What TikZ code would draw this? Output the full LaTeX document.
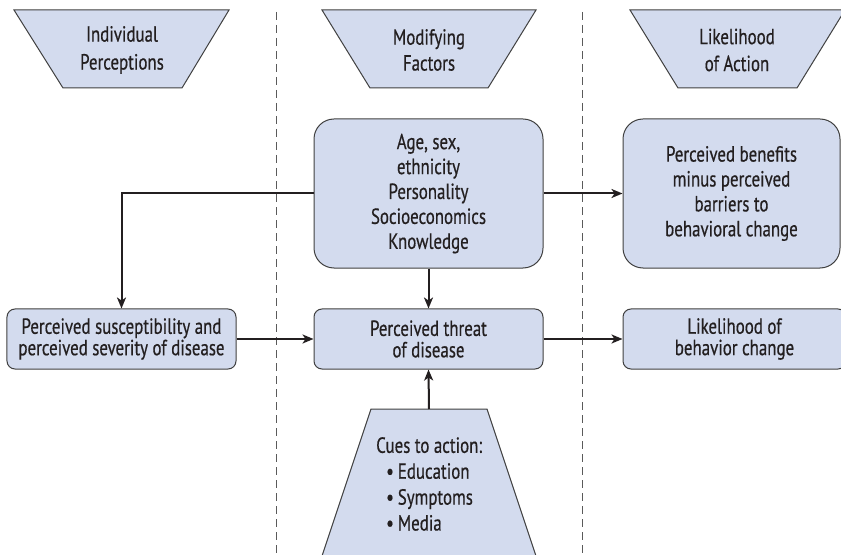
\documentclass[tikz,border=0pt]{standalone}
\usepackage{fontspec}
\setmainfont[FakeStretch=0.77, FakeBold=0.5]{PT Sans}
\usetikzlibrary{arrows.meta}

\definecolor{boxfill}{RGB}{211,219,238}
\definecolor{edge}{RGB}{64,64,64}
\definecolor{ink}{RGB}{35,31,32}
\definecolor{divider}{RGB}{90,90,90}

\begin{document}
\begin{tikzpicture}[x=1bp, y=-1bp,
  every node/.style={text=ink, font=\fontsize{22}{25}\selectfont, align=center, inner sep=0pt},
  tallbox/.style={draw=edge, fill=boxfill, line width=1bp, rounded corners=20bp,
    minimum width=229bp, minimum height=149bp},
  flatbox/.style={draw=edge, fill=boxfill, line width=1bp, rounded corners=8bp,
    minimum width=229bp, minimum height=60bp, font=\fontsize{22}{21.5}\selectfont},
  banner/.style={draw=edge, fill=boxfill, line width=1bp},
  link/.style={draw=ink, line width=2bp, -{Stealth[length=11bp, width=9bp, inset=3bp]}},
  divide/.style={draw=divider, line width=1bp, dash pattern=on 8bp off 5bp}
]
\useasboundingbox (0,0) rectangle (841,555);
\clip (0,0) rectangle (841,555);

% column dividers
\draw[divide] (276,12) -- (276,555);
\draw[divide] (582,12) -- (582,555);

% column headings
\draw[banner] (14,10) -- (229,10) -- (182,88) -- (63,88) -- cycle;
\node[font=\fontsize{22}{28}\selectfont] (indiv) at (122,50) {Individual\\Perceptions};
\draw[banner] (322,10) -- (536,10) -- (488,88) -- (370,88) -- cycle;
\node[font=\fontsize{22}{26}\selectfont] (modif) at (429,50) {Modifying\\Factors};
\draw[banner] (630,10) -- (845,10) -- (797,88) -- (678,88) -- cycle;
\node[font=\fontsize{22}{27}\selectfont] (action) at (737,50) {Likelihood\\of Action};

% model boxes
\node[tallbox] (factors) at (428.5,193.5) {Age, sex,\\ethnicity\\Personality\\Socioeconomics\\Knowledge};
\node[tallbox, minimum width=217bp] (benefits) at (731.5,193.5) {Perceived benefits\\minus perceived\\barriers to\\behavioral change};
\node[flatbox] (suscept) at (121.5,339) {Perceived susceptibility and\\perceived severity of disease};
\node[flatbox] (threat) at (428.5,339) {Perceived threat\\of disease};
\node[flatbox, minimum width=223bp] (likely) at (734.5,339) {Likelihood of\\behavior change};

% cues to action
\draw[banner] (371,409) -- (487,409) -- (538,562) -- (320,562) -- cycle;
\coordinate (cuestop) at (429,409);
\node[anchor=west, align=left, font=\fontsize{22}{26}\selectfont] (cues) at (376,484)
  {Cues to action:\\
   \hspace*{10bp}\textbullet\hspace{4bp}Education\\
   \hspace*{10bp}\textbullet\hspace{4bp}Symptoms\\
   \hspace*{10bp}\textbullet\hspace{4bp}Media};

% connectors
\draw[link] (factors.west) -| (suscept.north);
\draw[link] (factors.east) -- (benefits.west);
\draw[link] (factors.south) -- (threat.north);
\draw[link] (suscept.east) -- (threat.west);
\draw[link] (threat.east) -- (likely.west);
\draw[link] (cuestop) -- (threat.south);
\end{tikzpicture}
\end{document}
